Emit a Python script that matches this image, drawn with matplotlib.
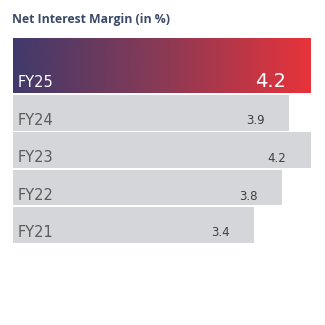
import numpy as np
import matplotlib
matplotlib.use("Agg")
import matplotlib.pyplot as plt
from matplotlib.colors import LinearSegmentedColormap

# Data
years = ["FY25", "FY24", "FY23", "FY22", "FY21"]
values = [4.2, 3.9, 4.2, 3.8, 3.4]
title = "Net Interest Margin (in %)"

# Layout (pixel units on y)
W = H = 325
centers = [65.5, 113, 150, 187.5, 225]
heights = [55, 36, 36, 35, 36]
x0_px, x42_px = 12.5, 310.5

fig = plt.figure(figsize=(3.25, 3.25), dpi=100)
fig.patch.set_facecolor("white")
ax = fig.add_axes([x0_px / W, 0, (x42_px - x0_px) / W, 1])
ax.set_xlim(0, 4.2)
ax.set_ylim(H, 0)
ax.axis("off")

font = "DejaVu Sans"
bars = ax.barh(centers, values, height=heights, color="#d5d6d9", edgecolor="none")

# Gradient for the highlighted bar
cmap = LinearSegmentedColormap.from_list("g", ["#403a6c", "#8a3a55", "#e8333a"])
grad = np.linspace(0, 1, 256).reshape(1, -1)
b0 = bars[0]
im = ax.imshow(grad, cmap=cmap, aspect="auto",
               extent=(0, values[0], centers[0] + heights[0] / 2, centers[0] - heights[0] / 2),
               zorder=3)
im.set_clip_path(b0)
ax.set_xlim(0, 4.2)
ax.set_ylim(H, 0)

label_base = [87, 125, 162, 200, 237]
for i, (yr, v) in enumerate(zip(years, values)):
    first = i == 0
    col = "white" if first else "#5b5b5b"
    ax.annotate(yr, xy=(0, label_base[i]), xytext=(5, 0), textcoords="offset pixels",
                ha="left", va="baseline", fontsize=10.5, color=col, family=font, zorder=5)
    ax.annotate(f"{v:.1f}", xy=(v, label_base[i] - (0 if first else 0.5)), xytext=(-24, 0),
                textcoords="offset pixels", ha="right", va="baseline",
                fontsize=14 if first else 8.5, color="white" if first else "#3f3f3f",
                family=font, zorder=5)

fig.text(12 / W, 1 - 23 / H, title, ha="left", va="baseline", fontsize=8.8,
         fontweight="bold", color="#3a4a68", family="Open Sans")

fig.savefig("out.png", dpi=100, facecolor="white")
